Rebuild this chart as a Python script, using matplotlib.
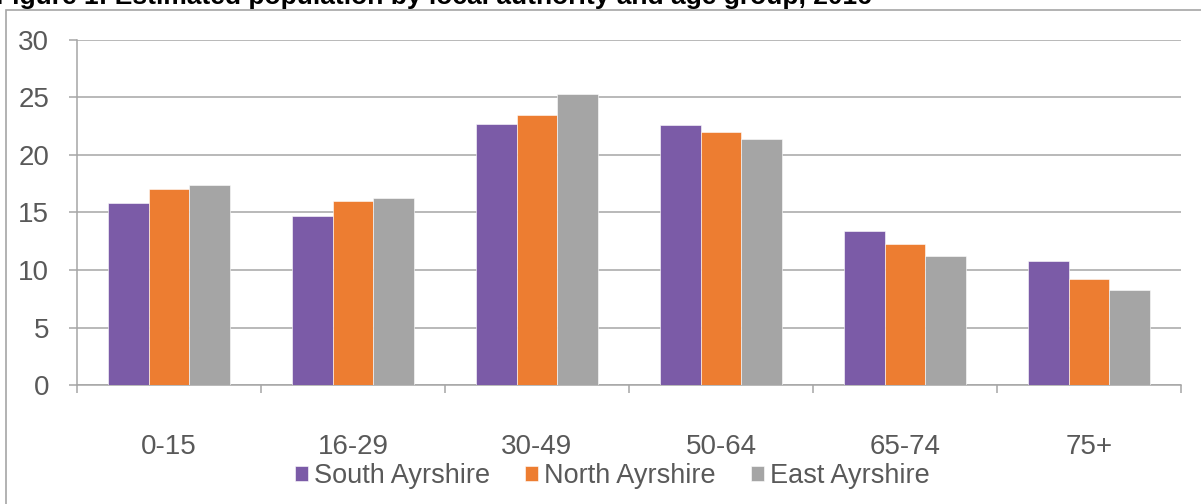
import matplotlib
matplotlib.use("Agg")
import matplotlib.pyplot as plt
import numpy as np
from matplotlib.patches import Rectangle

plt.rcParams['font.family'] = ['Liberation Sans', 'DejaVu Sans']

# data
age_groups = ["0-15", "16-29", "30-49", "50-64", "65-74", "75+"]
south = [15.8, 14.7, 22.7, 22.6, 13.4, 10.8]
north = [17.0, 16.0, 23.5, 22.0, 12.3, 9.2]
east = [17.4, 16.3, 25.3, 21.4, 11.2, 8.3]
series_names = ["South Ayrshire", "North Ayrshire", "East Ayrshire"]
colors = ["#7B5BA7", "#ED7D31", "#A5A5A5"]

W, H = 1201, 504
fig = plt.figure(figsize=(W / 100, H / 100), dpi=100)

# outer chart frame (partly cut off in the original)
fig.patches.append(Rectangle((6 / W, -0.1), 1.2, 1 - 10 / H + 0.1,
                             transform=fig.transFigure, fill=False,
                             edgecolor="#a6a6a6", linewidth=1.2))

# title, top half cut off like in the reference
fig.text(-4 / W, 1 - 4 / H,
         "Figure 1: Estimated population by local authority and age group, 2016",
         fontsize=19, fontweight='bold', color="#000000", va='baseline', ha='left')

ax = fig.add_axes([77 / W, (H - 385) / H, (1181 - 77) / W, (385 - 40) / H])

x = np.arange(len(age_groups))
bw = 0.222
for i, (vals, name, c) in enumerate(zip([south, north, east], series_names, colors)):
    ax.bar(x + (i - 1) * bw, vals, bw, color=c, label=name,
           edgecolor="white", linewidth=0.4, zorder=3)

ax.set_xlim(-0.5, len(age_groups) - 0.5)
ax.set_ylim(0, 30)
ax.set_yticks(range(0, 31, 5))
ax.yaxis.grid(True, color="#a6a6a6", linewidth=1.1, zorder=0)

for s in ["top", "right"]:
    ax.spines[s].set_visible(False)
ax.spines["left"].set_color("#a6a6a6")
ax.spines["bottom"].set_color("#a6a6a6")
ax.spines["left"].set_linewidth(1.1)
ax.spines["bottom"].set_linewidth(1.1)

ax.set_xticks(x)
ax.set_xticklabels(age_groups)
ax.set_xticks(np.arange(-0.5, len(age_groups)), minor=True)
ax.tick_params(axis='x', which='major', length=0, pad=35, labelsize=20, labelcolor="#595959")
ax.tick_params(axis='x', which='minor', length=6, width=1.1, color="#a6a6a6")
ax.tick_params(axis='y', length=6, width=1.1, color="#a6a6a6", pad=14,
               labelsize=20, labelcolor="#595959")

fig.legend(loc='center', bbox_to_anchor=(612 / W, 1 - 476 / H), ncol=3,
           frameon=False, fontsize=19.5, handlelength=0.5, handleheight=0.5,
           handletextpad=0.2, columnspacing=1.3, labelcolor="#595959",
           borderpad=0.2)

fig.savefig("out.png", dpi=100)
